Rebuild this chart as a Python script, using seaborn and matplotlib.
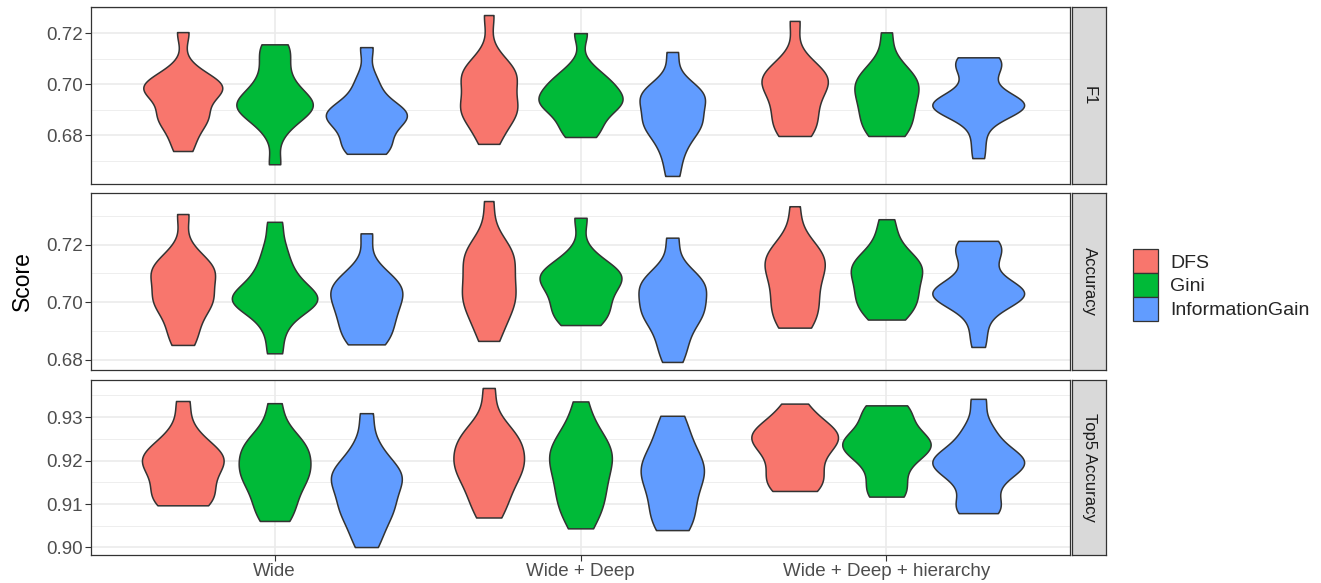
import numpy as np
import pandas as pd
import matplotlib
matplotlib.use("Agg")
import matplotlib.pyplot as plt
from matplotlib.patches import Patch
from matplotlib.ticker import MultipleLocator, FormatStrFormatter
import seaborn as sns

MODELS = ["Wide", "Wide + Deep", "Wide + Deep + hierarchy"]
METHODS = ["DFS", "Gini", "InformationGain"]
METRICS = ["F1", "Accuracy", "Top5 Accuracy"]
COLORS = ["#F8766D", "#00BA38", "#619CFF"]

# ---- F1 per run ----
F1_WIDE_DFS = [0.7205, 0.7060, 0.7020, 0.7000, 0.6993, 0.6988, 0.6982, 0.6970, 0.6950, 0.6885, 0.6880, 0.6870, 0.6840, 0.6790, 0.6738]
F1_WIDE_GINI = [0.7157, 0.7140, 0.7090, 0.7040, 0.7000, 0.6970, 0.6945, 0.6930, 0.6920, 0.6912, 0.6900, 0.6885, 0.6860, 0.6810, 0.6686]
F1_WIDE_IG = [0.7146, 0.7030, 0.6980, 0.6935, 0.6905, 0.6890, 0.6883, 0.6877, 0.6870, 0.6850, 0.6820, 0.6790, 0.6760, 0.6740, 0.6727]
F1_WD_DFS = [0.7272, 0.7110, 0.7060, 0.7045, 0.7040, 0.7030, 0.7000, 0.6960, 0.6920, 0.6905, 0.6898, 0.6890, 0.6860, 0.6810, 0.6766]
F1_WD_GINI = [0.7201, 0.7070, 0.7025, 0.7010, 0.7000, 0.6975, 0.6950, 0.6938, 0.6932, 0.6925, 0.6910, 0.6880, 0.6850, 0.6815, 0.6793]
F1_WD_IG = [0.7127, 0.7010, 0.6975, 0.6960, 0.6952, 0.6945, 0.6930, 0.6880, 0.6855, 0.6848, 0.6840, 0.6810, 0.6770, 0.6720, 0.6640]
F1_WDH_DFS = [0.7249, 0.7100, 0.7060, 0.7035, 0.7028, 0.7020, 0.7010, 0.6990, 0.6960, 0.6930, 0.6900, 0.6870, 0.6840, 0.6815, 0.6797]
F1_WDH_GINI = [0.7204, 0.7090, 0.7050, 0.7025, 0.7012, 0.7000, 0.6985, 0.6960, 0.6935, 0.6910, 0.6890, 0.6860, 0.6835, 0.6810, 0.6797]
F1_WDH_IG = [0.7106, 0.7103, 0.7096, 0.7080, 0.7055, 0.7025, 0.6985, 0.6945, 0.6930, 0.6924, 0.6921, 0.6919, 0.6917, 0.6915, 0.6912, 0.6905, 0.6885, 0.6850, 0.6780, 0.6710]

# ---- Accuracy per run ----
ACC_WIDE_DFS = [0.7306, 0.7180, 0.7140, 0.7115, 0.7108, 0.7102, 0.7090, 0.7040, 0.7015, 0.7008, 0.7000, 0.6975, 0.6930, 0.6890, 0.6852]
ACC_WIDE_GINI = [0.7279, 0.7200, 0.7150, 0.7110, 0.7080, 0.7055, 0.7035, 0.7020, 0.7010, 0.7003, 0.6995, 0.6980, 0.6950, 0.6900, 0.6823]
ACC_WIDE_IG = [0.7239, 0.7120, 0.7085, 0.7062, 0.7052, 0.7045, 0.7030, 0.7005, 0.6985, 0.6965, 0.6945, 0.6920, 0.6890, 0.6868, 0.6854]
ACC_WD_DFS = [0.7351, 0.7210, 0.7175, 0.7165, 0.7158, 0.7140, 0.7100, 0.7060, 0.7030, 0.7020, 0.7012, 0.6990, 0.6950, 0.6910, 0.6866]
ACC_WD_GINI = [0.7293, 0.7170, 0.7130, 0.7110, 0.7098, 0.7092, 0.7085, 0.7070, 0.7050, 0.7025, 0.7000, 0.6980, 0.6960, 0.6935, 0.6921]
ACC_WD_IG = [0.7224, 0.7120, 0.7085, 0.7065, 0.7058, 0.7050, 0.7030, 0.6990, 0.6970, 0.6964, 0.6955, 0.6920, 0.6880, 0.6840, 0.6793]
ACC_WDH_DFS = [0.7333, 0.7210, 0.7170, 0.7158, 0.7152, 0.7145, 0.7125, 0.7095, 0.7065, 0.7035, 0.7005, 0.6980, 0.6955, 0.6930, 0.6912]
ACC_WDH_GINI = [0.7288, 0.7220, 0.7165, 0.7140, 0.7132, 0.7125, 0.7110, 0.7090, 0.7065, 0.7040, 0.7020, 0.7005, 0.6985, 0.6960, 0.6940]
ACC_WDH_IG = [0.7213, 0.7209, 0.7198, 0.7180, 0.7160, 0.7130, 0.7090, 0.7058, 0.7042, 0.7037, 0.7034, 0.7032, 0.7030, 0.7027, 0.7022, 0.7012, 0.6990, 0.6960, 0.6900, 0.6845]

# ---- Top5 accuracy per run ----
TOP5_WIDE_DFS = [0.9337, 0.9270, 0.9240, 0.9222, 0.9212, 0.9207, 0.9200, 0.9193, 0.9180, 0.9160, 0.9140, 0.9125, 0.9110, 0.9100, 0.9097]
TOP5_WIDE_GINI = [0.9332, 0.9270, 0.9245, 0.9230, 0.9226, 0.9220, 0.9195, 0.9175, 0.9170, 0.9165, 0.9150, 0.9125, 0.9100, 0.9080, 0.9061]
TOP5_WIDE_IG = [0.9309, 0.9240, 0.9210, 0.9185, 0.9170, 0.9165, 0.9160, 0.9150, 0.9130, 0.9100, 0.9093, 0.9085, 0.9060, 0.9030, 0.9001]
TOP5_WD_DFS = [0.9367, 0.9290, 0.9260, 0.9250, 0.9245, 0.9230, 0.9210, 0.9192, 0.9186, 0.9180, 0.9165, 0.9140, 0.9120, 0.9095, 0.9069]
TOP5_WD_GINI = [0.9336, 0.9280, 0.9255, 0.9235, 0.9222, 0.9215, 0.9205, 0.9190, 0.9170, 0.9150, 0.9130, 0.9110, 0.9095, 0.9075, 0.9044]
TOP5_WD_IG = [0.9303, 0.9280, 0.9250, 0.9220, 0.9200, 0.9188, 0.9180, 0.9172, 0.9160, 0.9140, 0.9115, 0.9090, 0.9070, 0.9055, 0.9040]
TOP5_WDH_DFS = [0.9331, 0.9300, 0.9278, 0.9265, 0.9260, 0.9256, 0.9250, 0.9240, 0.9225, 0.9205, 0.9185, 0.9165, 0.9150, 0.9138, 0.9130]
TOP5_WDH_GINI = [0.9327, 0.9322, 0.9305, 0.9280, 0.9258, 0.9245, 0.9240, 0.9236, 0.9230, 0.9220, 0.9205, 0.9180, 0.9150, 0.9125, 0.9117]
TOP5_WDH_IG = [0.9342, 0.9280, 0.9255, 0.9230, 0.9212, 0.9203, 0.9198, 0.9194, 0.9188, 0.9175, 0.9160, 0.9135, 0.9100, 0.9088, 0.9079]

RUNS = {
    "F1": [[F1_WIDE_DFS, F1_WIDE_GINI, F1_WIDE_IG],
           [F1_WD_DFS, F1_WD_GINI, F1_WD_IG],
           [F1_WDH_DFS, F1_WDH_GINI, F1_WDH_IG]],
    "Accuracy": [[ACC_WIDE_DFS, ACC_WIDE_GINI, ACC_WIDE_IG],
                 [ACC_WD_DFS, ACC_WD_GINI, ACC_WD_IG],
                 [ACC_WDH_DFS, ACC_WDH_GINI, ACC_WDH_IG]],
    "Top5 Accuracy": [[TOP5_WIDE_DFS, TOP5_WIDE_GINI, TOP5_WIDE_IG],
                      [TOP5_WD_DFS, TOP5_WD_GINI, TOP5_WD_IG],
                      [TOP5_WDH_DFS, TOP5_WDH_GINI, TOP5_WDH_IG]],
}

rows = []
for metric in METRICS:
    for mi, model in enumerate(MODELS):
        for hi, method in enumerate(METHODS):
            for v in RUNS[metric][mi][hi]:
                rows.append((metric, model, method, v))
df = pd.DataFrame(rows, columns=["metric", "model", "method", "score"])


def nrd0(kde):
    """Silverman's rule of thumb (R's bw.nrd0) as a scipy bandwidth factor."""
    x = np.asarray(kde.dataset).ravel()
    sd = x.std(ddof=1)
    q75, q25 = np.percentile(x, [75, 25])
    spread = min(sd, (q75 - q25) / 1.34)
    return 0.9 * spread * x.size ** -0.2 / sd


sns.set_theme(style="white")
plt.rcParams["font.family"] = ["Liberation Sans", "DejaVu Sans"]

W, H = 1321, 583
fig = plt.figure(figsize=(W / 100, H / 100), dpi=100)
fig.patch.set_facecolor("white")

LEFT, RIGHT = 91, 1070
STRIP_L, STRIP_R = 1072, 1106
PANELS = [(7, 184), (193, 370), (380, 555)]
MAJOR = {"F1": 0.02, "Accuracy": 0.02, "Top5 Accuracy": 0.01}

BORDER = "#333333"
GRID = "#EBEBEB"
TICKTXT = "#4D4D4D"

for i, metric in enumerate(METRICS):
    top, bot = PANELS[i]
    ax = fig.add_axes([LEFT / W, 1 - bot / H, (RIGHT - LEFT) / W, (bot - top) / H])
    sub = df[df.metric == metric]
    sns.violinplot(
        data=sub, x="model", y="score", hue="method",
        order=MODELS, hue_order=METHODS, palette=COLORS,
        width=0.9, cut=0, density_norm="area", common_norm=True,
        inner=None, linewidth=1.1, linecolor=BORDER,
        bw_method=nrd0, bw_adjust=1.0, gridsize=512,
        saturation=1, dodge=True, gap=0, legend=False, ax=ax,
    )
    lo, hi = sub.score.min(), sub.score.max()
    pad = 0.05 * (hi - lo)
    ax.set_ylim(lo - pad, hi + pad)
    ax.set_xlim(-0.6, 2.6)
    step = MAJOR[metric]
    ax.yaxis.set_major_locator(MultipleLocator(step))
    ax.yaxis.set_minor_locator(MultipleLocator(step / 2))
    ax.yaxis.set_major_formatter(FormatStrFormatter("%.2f"))
    ax.set_axisbelow(True)
    ax.grid(True, which="major", axis="both", color=GRID, linewidth=1.2)
    ax.grid(True, which="minor", axis="y", color=GRID, linewidth=0.6)
    ax.set_xlabel("")
    ax.set_ylabel("")
    for s in ax.spines.values():
        s.set_visible(True)
        s.set_color(BORDER)
        s.set_linewidth(0.9)
    ax.tick_params(axis="y", which="major", length=4, width=0.8, color=BORDER,
                   labelsize=13.5, labelcolor=TICKTXT, pad=2, left=True)
    ax.tick_params(axis="y", which="minor", length=0)
    if i < 2:
        ax.tick_params(axis="x", which="both", bottom=False, labelbottom=False)
    else:
        ax.tick_params(axis="x", length=4, width=0.8, color=BORDER, bottom=True,
                       labelsize=13.5, labelcolor=TICKTXT, pad=2)

    # facet strip on the right
    sax = fig.add_axes([STRIP_L / W, 1 - bot / H, (STRIP_R - STRIP_L) / W, (bot - top) / H])
    sax.set_facecolor("#D9D9D9")
    sax.set_xticks([])
    sax.set_yticks([])
    for s in sax.spines.values():
        s.set_visible(True)
        s.set_color(BORDER)
        s.set_linewidth(0.9)
    sax.text(0.5, 0.5, metric, rotation=-90, ha="center", va="center",
             fontsize=12, color="#1A1A1A", transform=sax.transAxes)

fig.text(22 / W, 1 - 281 / H, "Score", rotation=90, ha="center", va="center",
         fontsize=16.5, color="black")

handles = [Patch(facecolor=c, edgecolor=BORDER, linewidth=0.9, label=m)
           for c, m in zip(COLORS, METHODS)]
fig.legend(handles=handles, loc="center left", bbox_to_anchor=(1133 / W, 1 - 285 / H),
           frameon=False, fontsize=14, handlelength=1.3, handleheight=1.5,
           labelspacing=0.0, handletextpad=0.6, borderpad=0, borderaxespad=0)

fig.savefig("out.png", dpi=100, facecolor="white")
